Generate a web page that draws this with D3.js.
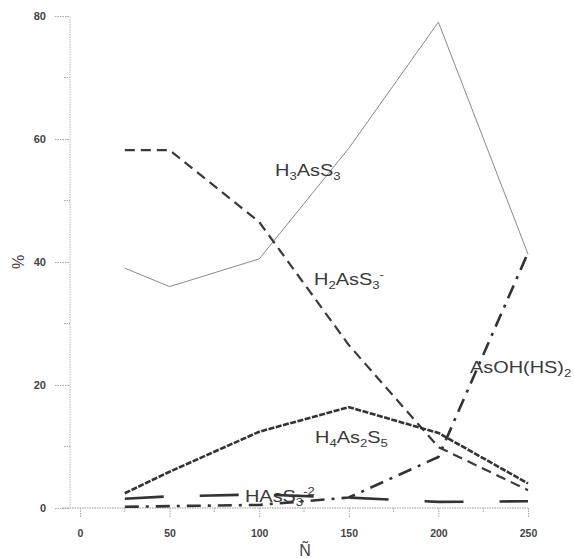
<!DOCTYPE html>
<html><head><meta charset="utf-8">
<script src="https://cdn.jsdelivr.net/npm/d3@7"></script>
<style>
body{margin:0;background:#fff;}
svg{display:block;font-family:"Liberation Sans",Arial,sans-serif;}
</style></head>
<body>
<svg id="c" width="574" height="558"></svg>
<script>
const xValues = [25, 50, 100, 150, 200, 250];
const h3AsS3 = [39, 36, 40.5, 58.5, 79, 41.3];
const h2AsS3 = [58.2, 58.2, 46.5, 26.5, 9.9, 2.9];
const h4As2S5 = [2.4, 5.9, 12.4, 16.4, 12.2, 4.0];
const asOHHS2 = [0.2, 0.3, 0.5, 1.7, 8.3, 41.5];
const hAsS3 = [1.5, 1.9, 2.2, 1.7, 1.0, 1.1];
const xTicks = [0, 50, 100, 150, 200, 250];
const yTicks = [0, 20, 40, 60, 80];

const svg = d3.select("#c");
const x = d3.scaleLinear().domain([0, 250]).range([80, 528]);
const y = d3.scaleLinear().domain([0, 80]).range([508, 16]);
const axisColor = "#a8a8a8";

svg.append("line").attr("x1", 62).attr("x2", x(250)).attr("y1", y(0)).attr("y2", y(0))
  .attr("stroke", "#999").attr("stroke-width", 1.2).attr("stroke-dasharray", "1.5,1");
svg.append("line").attr("x1", 70).attr("x2", 70).attr("y1", y(0)).attr("y2", y(80))
  .attr("stroke", "#c4c4c4").attr("stroke-width", 1.2).attr("stroke-dasharray", "1.5,1");

const xAxis = d3.axisBottom(x).tickValues(xTicks).tickSize(10).tickPadding(12);
const gx = svg.append("g").attr("transform", `translate(0,${y(0)})`).call(xAxis);
gx.select(".domain").remove();
gx.selectAll(".tick line").attr("stroke", axisColor).attr("stroke-dasharray", "1.5,1");
gx.selectAll(".tick text").attr("font-size", 10.5).attr("font-weight", "bold").attr("fill", "#444")
  .attr("font-family", "Liberation Sans, Arial, sans-serif");
svg.append("g").selectAll("line").data([25, 75, 125, 175, 225]).join("line")
  .attr("x1", d => x(d)).attr("x2", d => x(d)).attr("y1", y(0)).attr("y2", y(0) + 5)
  .attr("stroke", axisColor).attr("stroke-dasharray", "1.5,1");

const yAxis = d3.axisLeft(y).tickValues(yTicks).tickSize(15).tickPadding(8);
const gy = svg.append("g").attr("transform", "translate(69,0)").call(yAxis);
gy.select(".domain").remove();
gy.selectAll(".tick line").attr("stroke", axisColor).attr("stroke-dasharray", "1.5,1");
gy.selectAll(".tick text").attr("font-size", 11).attr("font-weight", "bold").attr("fill", "#444")
  .attr("font-family", "Liberation Sans, Arial, sans-serif");
svg.append("g").selectAll("line").data([10, 30, 50, 70]).join("line")
  .attr("x1", 64).attr("x2", 70).attr("y1", d => y(d)).attr("y2", d => y(d))
  .attr("stroke", axisColor).attr("stroke-dasharray", "1.5,1");

svg.append("text").attr("transform", "translate(24,262) rotate(-90)").attr("text-anchor", "middle")
  .attr("font-size", 16).attr("fill", "#444").text("%");
svg.append("text").attr("x", 305).attr("y", 556).attr("text-anchor", "middle")
  .attr("font-size", 16).attr("fill", "#444").text("Ñ");

const line = d3.line().x(d => x(d[0])).y(d => y(d[1]));
function drawSeries(vals, color, width, dash) {
  svg.append("path").datum(xValues.map((v, i) => [v, vals[i]]))
    .attr("d", line).attr("fill", "none").attr("stroke", color)
    .attr("stroke-width", width).attr("stroke-dasharray", dash)
    .attr("stroke-linejoin", "round");
}
drawSeries(h3AsS3, "#8a8a8a", 1, null);
drawSeries(h2AsS3, "#3a3a3a", 2.2, "10,6");
drawSeries(h4As2S5, "#333", 2.6, "6,1.5");
drawSeries(asOHHS2, "#333", 2.6, "14,7,3,7");
drawSeries(hAsS3, "#333", 2.6, "39,36");

function label(xp, yp, parts, size) {
  const t = svg.append("text").attr("transform", `translate(${xp},${yp}) scale(1.17,1)`)
    .attr("font-size", size).attr("fill", "#3a3a3a");
  let shift = 0;
  parts.forEach(p => {
    const target = p.t === "sub" ? 4 : p.t === "sup" ? -7 : 0;
    const ts = t.append("tspan").text(p.s).attr("dy", target - shift);
    if (p.t !== "n") ts.attr("font-size", size * 0.66);
    shift = target;
  });
}
label(275, 176, [{s:"H",t:"n"},{s:"3",t:"sub"},{s:"AsS",t:"n"},{s:"3",t:"sub"}], 17);
label(314, 285, [{s:"H",t:"n"},{s:"2",t:"sub"},{s:"AsS",t:"n"},{s:"3",t:"sub"},{s:"-",t:"sup"}], 17);
label(470, 373, [{s:"AsOH(HS)",t:"n"},{s:"2",t:"sub"}], 17);
label(315, 443, [{s:"H",t:"n"},{s:"4",t:"sub"},{s:"As",t:"n"},{s:"2",t:"sub"},{s:"S",t:"n"},{s:"5",t:"sub"}], 17);
label(245, 502, [{s:"HAsS",t:"n"},{s:"3",t:"sub"},{s:"-2",t:"sup"}], 17);
</script>
</body></html>
